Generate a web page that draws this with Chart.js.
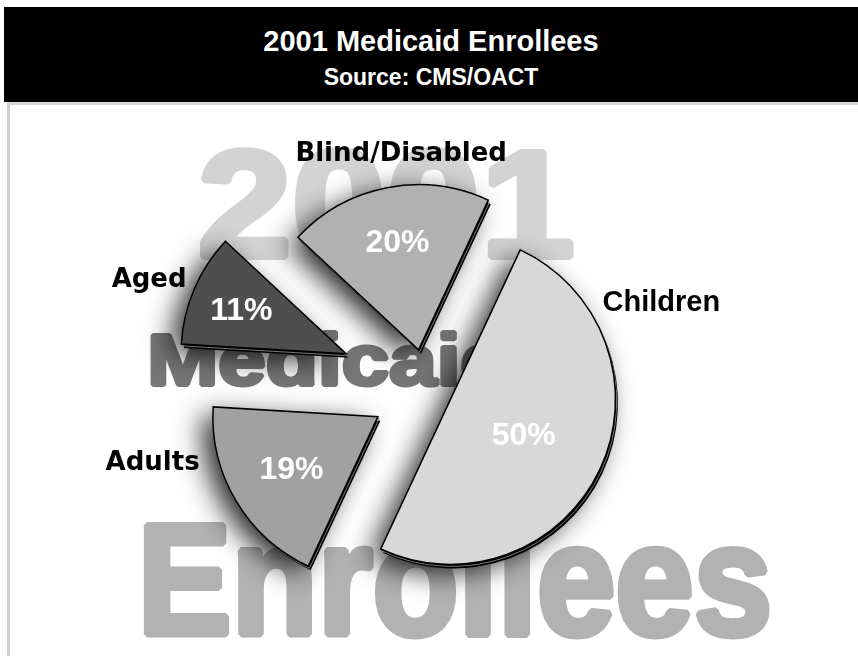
<!DOCTYPE html>
<html lang="en">
<head>
<meta charset="utf-8">
<title>2001 Medicaid Enrollees</title>
<style>
  html, body { margin: 0; padding: 0; background: #fff; overflow: hidden; }
  #page { position: relative; width: 858px; height: 656px; }
  #header { position: absolute; left: 4px; top: 7px; width: 854px; height: 95px; background: #000; color: #fff;
            text-align: center; font-family: "Liberation Sans", Arial, sans-serif; font-weight: bold; }
  #header h1 { margin: 0; padding-top: 17px; font-size: 29px; line-height: 34px; }
  #header h2 { margin: 4px 0 0 0; font-size: 23px; line-height: 30px; }
  #frame { position: absolute; left: 7px; top: 102px; right: 0; bottom: 0;
           border-left: 3px solid #cfcfcf; border-top: 3px solid #d6d6d6; }
  #chart { position: absolute; left: 0; top: 0; }
</style>
</head>
<body>
<div id="page">
  <div id="header">
    <h1>2001 Medicaid Enrollees</h1>
    <h2>Source: CMS/OACT</h2>
  </div>
  <div id="frame"></div>
  <canvas id="chart" width="858" height="656"></canvas>
</div>

<script src="https://cdn.jsdelivr.net/npm/chart.js@4.4.1/dist/chart.umd.min.js"></script>
<script>
// data
const categories = ['Children', 'Adults', 'Aged', 'Blind/Disabled'];
const shares = [50, 19, 11, 20];

// styling
const sliceColors = ['#d8d8d8', '#a1a1a1', '#4e4e4e', '#b1b1b1'];
const explode = [27, 56, 87, 39];              // px each slice is pulled out
const pctRadius = [0.49, 0.61, 0.69, 0.67];    // where the % sits, share of radius
const nameTurn = [-50, 20, -2, 6];             // degrees off the slice middle
const nameRadius = [1.41, 1.39, 1.28, 1.21];
const nameFont = ['bold 29px "Liberation Sans"', 'bold 26px "DejaVu Sans"',
                  'bold 26px "DejaVu Sans"', 'bold 26px "DejaVu Sans"'];

const backWords = [
  { text: '2001', color: '#d3d3d3', left: 200, right: 573, base: 260, cap: 112, weight: 6 },
  { text: 'Medicaid', color: '#767676', left: 150, right: 509, base: 387, cap: 54, weight: 4 },
  { text: 'Enrollees', color: '#b2b2b2', left: 143, right: 770, base: 637, cap: 118, weight: 7 }
];

function capHeight(ctx) {
  return ctx.measureText('H').actualBoundingBoxAscent;
}

function wedge(ctx, a, dx, dy) {
  ctx.beginPath();
  ctx.moveTo(a.x + dx, a.y + dy);
  ctx.arc(a.x + dx, a.y + dy, a.outerRadius, a.startAngle, a.endAngle);
  ctx.closePath();
}

// pull slices out along their middle angle
const explodePlugin = {
  id: 'explode',
  afterDatasetUpdate(chart, args) {
    const meta = chart.getDatasetMeta(args.index);
    meta.data.forEach(function (arc, i) {
      const mid = (arc.startAngle + arc.endAngle) / 2;
      arc.x += Math.cos(mid) * explode[i];
      arc.y += Math.sin(mid) * explode[i];
    });
  }
};

// big words behind, then shadows and the thick edge under each slice
const backdrop = {
  id: 'backdrop',
  beforeDatasetsDraw(chart) {
    const ctx = chart.ctx;
    ctx.save();
    backWords.forEach(function (w) {
      const half = w.weight / 2;
      ctx.font = 'bold 100px "Liberation Sans"';
      const size = 100 * (w.cap - w.weight) / capHeight(ctx);
      ctx.font = 'bold ' + size + 'px "Liberation Sans"';
      ctx.textAlign = 'left';
      ctx.textBaseline = 'alphabetic';
      const m = ctx.measureText(w.text);
      const ink = m.actualBoundingBoxLeft + m.actualBoundingBoxRight;
      const sx = (w.right - w.left - w.weight) / ink;
      ctx.save();
      ctx.translate(w.left + half, w.base - half);
      ctx.scale(sx, 1);
      ctx.fillStyle = w.color;
      ctx.strokeStyle = w.color;
      ctx.lineWidth = w.weight;
      ctx.lineJoin = 'bevel';
      ctx.fillText(w.text, m.actualBoundingBoxLeft, 0);
      ctx.strokeText(w.text, m.actualBoundingBoxLeft, 0);
      ctx.restore();
    });

    const arcs = chart.getDatasetMeta(0).data;
    ctx.save();
    ctx.shadowColor = 'rgba(0,0,0,0.85)';
    ctx.shadowBlur = 28;
    ctx.shadowOffsetX = -10;
    ctx.shadowOffsetY = 8;
    ctx.fillStyle = '#000';
    arcs.forEach(function (a) { wedge(ctx, a, 0, 0); ctx.fill(); });
    ctx.restore();

    arcs.forEach(function (a) {
      wedge(ctx, a, 2.5, 4);
      ctx.fillStyle = '#000';
      ctx.fill();
      wedge(ctx, a, 1.2, 2);
      ctx.strokeStyle = '#777';
      ctx.lineWidth = 1;
      ctx.stroke();
    });
    ctx.restore();
  }
};

// percentages inside, names outside
const sliceLabels = {
  id: 'sliceLabels',
  afterDatasetsDraw(chart) {
    const ctx = chart.ctx;
    const arcs = chart.getDatasetMeta(0).data;
    ctx.save();
    ctx.textAlign = 'center';
    ctx.textBaseline = 'alphabetic';
    arcs.forEach(function (a, i) {
      const mid = (a.startAngle + a.endAngle) / 2;
      const r = a.outerRadius;

      ctx.font = 'bold 32px "Liberation Sans"';
      ctx.fillStyle = '#fff';
      let ch = capHeight(ctx);
      ctx.fillText(shares[i] + '%',
        a.x + Math.cos(mid) * r * pctRadius[i],
        a.y + Math.sin(mid) * r * pctRadius[i] + ch / 2);

      const ang = mid + nameTurn[i] * Math.PI / 180;
      ctx.font = nameFont[i];
      ctx.fillStyle = '#000';
      ch = capHeight(ctx);
      ctx.fillText(categories[i],
        a.x + Math.cos(ang) * r * nameRadius[i],
        a.y + Math.sin(ang) * r * nameRadius[i] + ch / 2);
    });
    ctx.restore();
  }
};

const ctx = document.getElementById('chart').getContext('2d');
new Chart(ctx, {
  type: 'pie',
  data: {
    labels: categories,
    datasets: [{
      data: shares,
      backgroundColor: sliceColors,
      borderColor: '#000',
      borderWidth: 1.5,
      borderJoinStyle: 'miter',
      clip: false
    }]
  },
  options: {
    responsive: false,
    animation: false,
    events: [],
    rotation: 25,
    radius: 165,
    layout: { padding: { top: 200, bottom: 80, left: 100, right: 106 } },
    plugins: {
      legend: { display: false },
      tooltip: { enabled: false },
      title: { display: false }
    }
  },
  plugins: [explodePlugin, backdrop, sliceLabels]
});
</script>
</body>
</html>
